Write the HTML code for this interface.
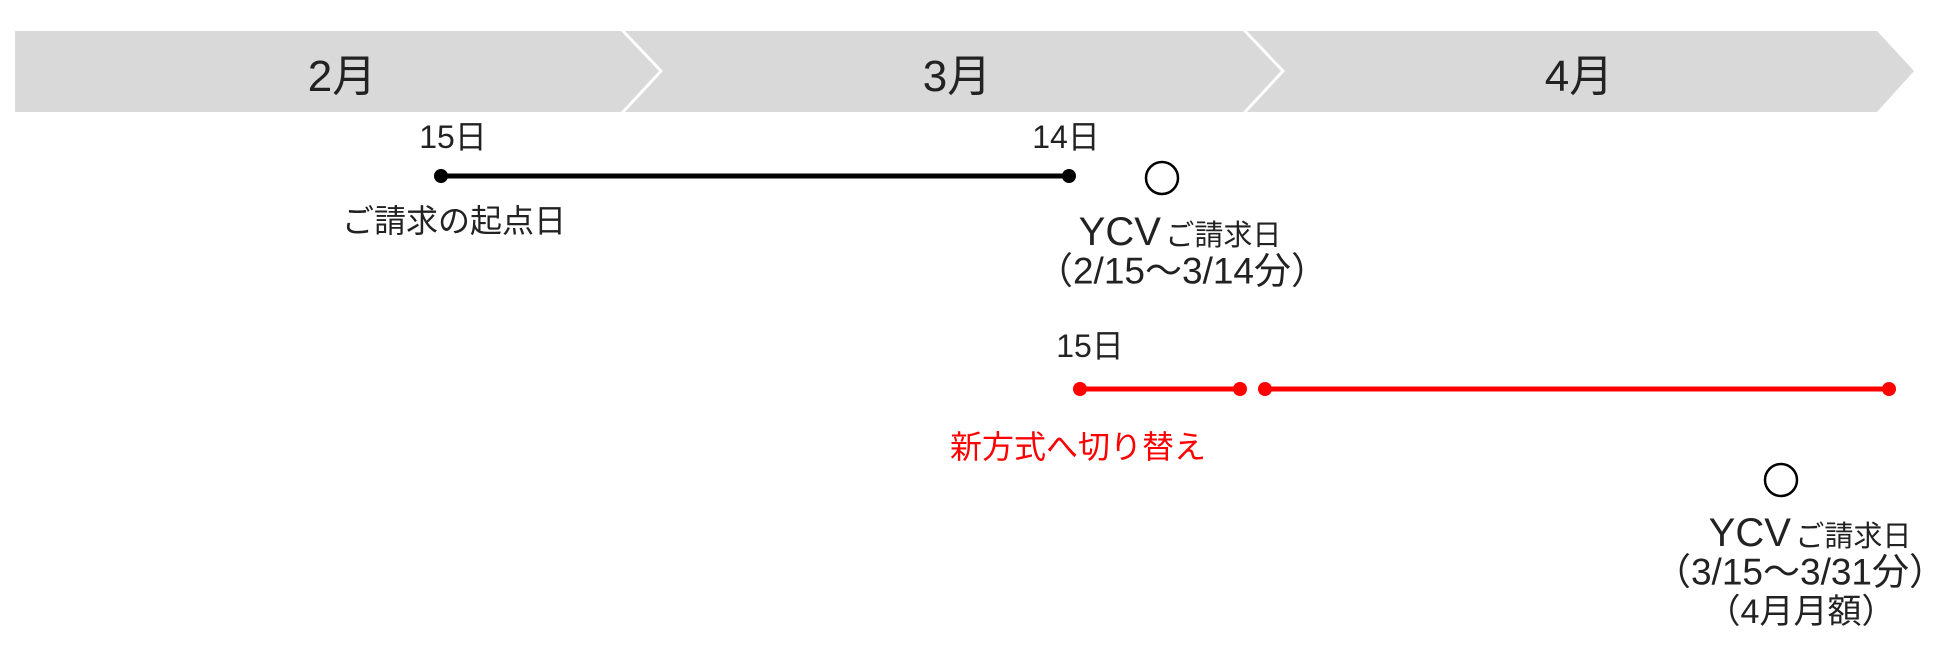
<!DOCTYPE html>
<html><head><meta charset="utf-8"><style>
html,body{margin:0;padding:0;background:#fff;}
body{width:1949px;height:659px;position:relative;overflow:hidden;font-family:"Liberation Sans","Noto Sans CJK JP",sans-serif;color:#222;}
.t{position:absolute;white-space:nowrap;transform:translate(-50%,-50%);line-height:1;}
</style></head><body>
<svg width="1949" height="659" style="position:absolute;left:0;top:0">
<polygon points="15,31 621,31 659,71 621,112 15,112" fill="#d9d9d9"/>
<polygon points="625,31 1243,31 1281,71 1243,112 625,112 663,71" fill="#d9d9d9"/>
<polygon points="1247,31 1877,31 1914,71 1877,112 1247,112 1285,71" fill="#d9d9d9"/>
<line x1="441" y1="176" x2="1069" y2="176" stroke="#000" stroke-width="5"/>
<circle cx="441" cy="176" r="7" fill="#000"/><circle cx="1069" cy="176" r="7" fill="#000"/>
<circle cx="1162" cy="178" r="16" fill="none" stroke="#000" stroke-width="2.5"/>
<line x1="1080" y1="389" x2="1240" y2="389" stroke="#f00" stroke-width="5"/>
<line x1="1265" y1="389" x2="1889" y2="389" stroke="#f00" stroke-width="5"/>
<circle cx="1080" cy="389" r="7" fill="#f00"/><circle cx="1240" cy="389" r="7" fill="#f00"/>
<circle cx="1265" cy="389" r="7" fill="#f00"/><circle cx="1889" cy="389" r="7" fill="#f00"/>
<circle cx="1781" cy="480" r="16" fill="none" stroke="#000" stroke-width="2.5"/>
</svg>
<div class="t" style="left:342px;top:77px;font-size:44px">2月</div>
<div class="t" style="left:957px;top:77px;font-size:44px">3月</div>
<div class="t" style="left:1579px;top:77px;font-size:44px">4月</div>
<div class="t" style="left:453px;top:137px;font-size:32px">15日</div>
<div class="t" style="left:1066px;top:137px;font-size:32px">14日</div>
<div class="t" style="left:454px;top:221px;font-size:32px">ご請求の起点日</div>
<div class="t" style="left:1180px;top:232px"><span style="font-size:40px">YCV</span> <span style="font-size:29px">ご請求日</span></div>
<div class="t" style="left:1182px;top:271px;font-size:37px">（2/15～3/14分）</div>
<div class="t" style="left:1090px;top:346px;font-size:32px">15日</div>
<div class="t" style="left:1078px;top:447px;font-size:32px;color:#f00">新方式へ切り替え</div>
<div class="t" style="left:1810px;top:533px"><span style="font-size:40px">YCV</span> <span style="font-size:29px">ご請求日</span></div>
<div class="t" style="left:1800px;top:572px;font-size:37px">（3/15～3/31分）</div>
<div class="t" style="left:1801px;top:612px;font-size:34px">（4月月額）</div>
</body></html>
